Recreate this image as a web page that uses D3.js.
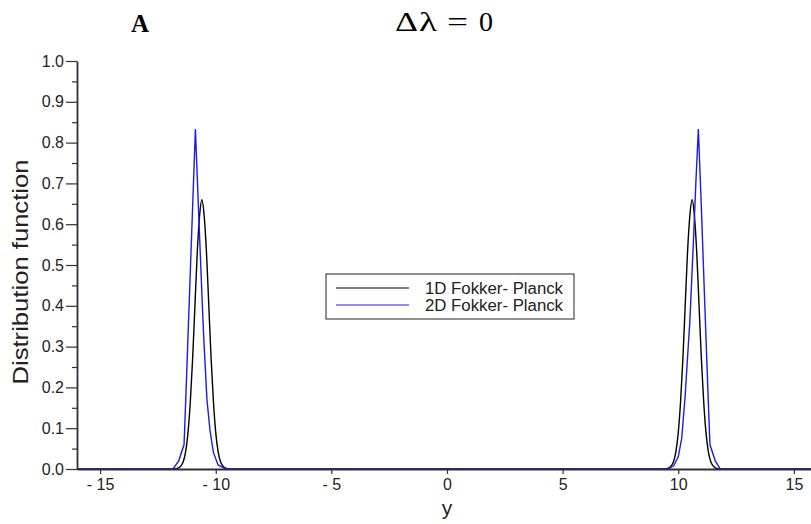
<!DOCTYPE html>
<html>
<head>
<meta charset="utf-8">
<script src="https://cdn.jsdelivr.net/npm/d3@7"></script>
<style>
  body { margin: 0; background: #fff; }
  svg { display: block; font-family: "Liberation Sans", Arial, sans-serif; }
</style>
</head>
<body>
<div id="chart"></div>
<script>
var width = 811;
var height = 524;

// values
var oneDY = [-16, -11.8, -11.6, -11.4, -11.2, -11.1, -11.0, -10.9, -10.8, -10.7, -10.6, -10.5, -10.4, -10.3, -10.2, -10.1, -10.0, -9.9, -9.8, -9.6, -9.4,
             9.4, 9.6, 9.8, 9.9, 10.0, 10.1, 10.2, 10.3, 10.4, 10.5, 10.6, 10.7, 10.8, 10.9, 11.0, 11.1, 11.2, 11.3, 11.4, 11.6, 11.8, 16];
var oneDF = [0, 0, 0.003, 0.019, 0.089, 0.165, 0.27, 0.40, 0.53, 0.62, 0.66, 0.62, 0.53, 0.40, 0.27, 0.165, 0.089, 0.043, 0.019, 0.003, 0,
             0, 0.003, 0.019, 0.043, 0.089, 0.165, 0.27, 0.40, 0.53, 0.62, 0.66, 0.62, 0.53, 0.40, 0.27, 0.165, 0.089, 0.043, 0.019, 0.003, 0, 0];

var twoDY = [-16, -11.85, -11.6, -11.37, -11.3, -11.15, -11.0, -10.88, -10.72, -10.55, -10.5, -10.38, -10.25, -10.1, -9.9, -9.55,
             9.55, 9.8, 10.0, 10.15, 10.3, 10.42, 10.5, 10.65, 10.76, 10.87, 11.0, 11.15, 11.3, 11.37, 11.6, 11.82, 16];
var twoDF = [0, 0, 0.02, 0.06, 0.166, 0.404, 0.643, 0.833, 0.60, 0.36, 0.30, 0.17, 0.095, 0.04, 0.01, 0,
             0, 0.008, 0.03, 0.075, 0.18, 0.29, 0.36, 0.55, 0.70, 0.833, 0.64, 0.40, 0.165, 0.06, 0.02, 0, 0];

var xTicks = [-15, -10, -5, 0, 5, 10, 15];
var yTicks = [0, 0.1, 0.2, 0.3, 0.4, 0.5, 0.6, 0.7, 0.8, 0.9, 1.0];
var yMinor = [0.05, 0.15, 0.25, 0.35, 0.45, 0.55, 0.65, 0.75, 0.85, 0.95];
var seriesNames = ["1D Fokker- Planck", "2D Fokker- Planck"];
var seriesColors = ["#000000", "#1c1ce6"];
var axisColor = "#2e2e3c";
// title glyphs: text, left x, width
var titleGlyphs = [["\u0394", 395, 23], ["\u03bb", 419, 18], ["=", 447, 21], ["0", 479, 14]];

var svg = d3.select("#chart").append("svg")
    .attr("width", width)
    .attr("height", height);

var x = d3.scaleLinear().domain([-16, 16]).range([77, 817]);
var y = d3.scaleLinear().domain([0, 1]).range([469, 61]);

// titles
svg.append("text")
    .attr("x", 140).attr("y", 32)
    .attr("text-anchor", "middle")
    .style("font-family", "'Liberation Serif', 'DejaVu Serif', serif")
    .style("font-weight", "bold")
    .style("font-size", "25px")
    .text("A");
svg.append("g").selectAll("text")
    .data(titleGlyphs)
    .enter().append("text")
    .attr("x", function(d) { return d[1]; })
    .attr("y", 31)
    .attr("textLength", function(d) { return d[2]; })
    .attr("lengthAdjust", "spacingAndGlyphs")
    .style("font-family", "'Liberation Serif', 'DejaVu Serif', serif")
    .style("font-size", "27px")
    .text(function(d) { return d[0]; });

// curves
var series = [
    oneDY.map(function(d, i) { return [d, oneDF[i]]; }),
    twoDY.map(function(d, i) { return [d, twoDF[i]]; })
];
var curves = [d3.curveMonotoneX, d3.curveLinear];

series.forEach(function(s, i) {
    var line = d3.line()
        .x(function(d) { return x(d[0]); })
        .y(function(d) { return y(d[1]); })
        .curve(curves[i]);
    svg.append("path")
        .datum(s)
        .attr("fill", "none")
        .attr("stroke", seriesColors[i])
        .attr("stroke-width", 1.4)
        .attr("d", line);
});

// axes
function fmtX(d) { return d < 0 ? "- " + Math.abs(d) : String(d); }

var gx = svg.append("g")
    .attr("transform", "translate(0," + y(0) + ")")
    .call(d3.axisBottom(x).tickValues(xTicks).tickFormat(fmtX)
        .tickSize(5).tickSizeOuter(0).tickPadding(5));

var gyMinor = svg.append("g")
    .attr("transform", "translate(" + x(-16) + ",0)")
    .call(d3.axisLeft(y).tickValues(yMinor).tickFormat("").tickSize(5).tickSizeOuter(0));
gyMinor.select(".domain").remove();

var gy = svg.append("g")
    .attr("transform", "translate(" + x(-16) + ",0)")
    .call(d3.axisLeft(y).tickValues(yTicks).tickFormat(d3.format(".1f"))
        .tickSize(11).tickSizeOuter(0).tickPadding(2));

[gx, gy, gyMinor].forEach(function(g) {
    g.selectAll(".domain").attr("stroke", axisColor).attr("stroke-width", 1.8);
    g.selectAll(".tick line").attr("stroke", axisColor).attr("stroke-width", 1.2);
    g.selectAll("text").attr("fill", "#222").style("font-size", "16px")
        .style("font-family", "'Liberation Sans', Arial, sans-serif");
});

// axis labels
svg.append("text")
    .attr("x", 447).attr("y", 515)
    .attr("text-anchor", "middle")
    .style("font-size", "21px")
    .attr("fill", "#222")
    .text("y");
svg.append("text")
    .attr("transform", "translate(28,272) rotate(-90)")
    .attr("text-anchor", "middle")
    .attr("textLength", 225)
    .attr("lengthAdjust", "spacingAndGlyphs")
    .style("font-size", "22px")
    .attr("fill", "#222")
    .text("Distribution function");

// legend
var legend = svg.append("g");
legend.append("rect")
    .attr("x", 326).attr("y", 274)
    .attr("width", 248).attr("height", 45)
    .attr("fill", "#fff")
    .attr("stroke", "#222")
    .attr("stroke-width", 1);
seriesNames.forEach(function(name, i) {
    var ly = 288 + i * 17;
    legend.append("line")
        .attr("x1", 336).attr("x2", 409)
        .attr("y1", ly).attr("y2", ly)
        .attr("stroke", seriesColors[i])
        .attr("stroke-width", 1.2);
    legend.append("text")
        .attr("x", 425).attr("y", ly + 6)
        .attr("textLength", 138)
        .attr("lengthAdjust", "spacingAndGlyphs")
        .style("font-size", "16px")
        .attr("fill", "#222")
        .text(name);
});
</script>
</body>
</html>
